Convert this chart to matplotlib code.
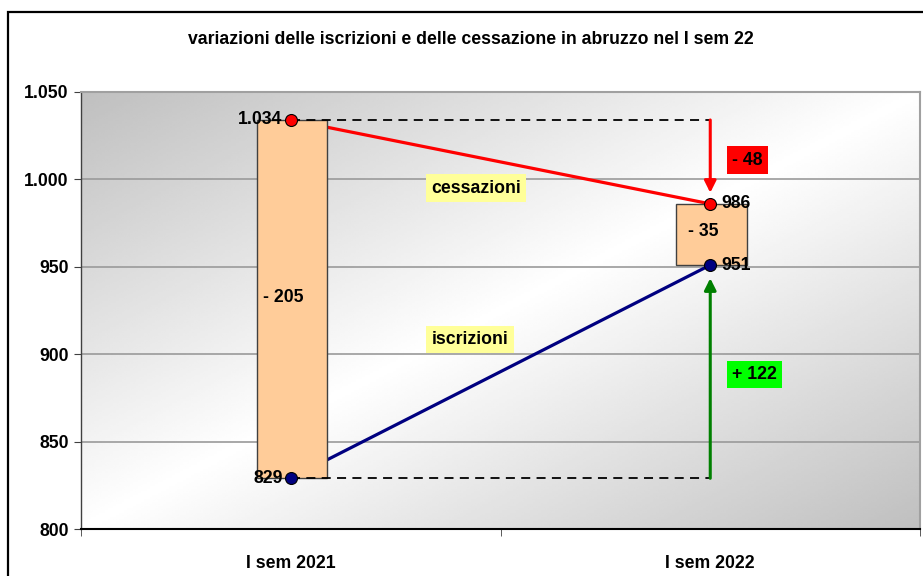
import numpy as np
import matplotlib
matplotlib.use("Agg")
import matplotlib.pyplot as plt
from matplotlib.patches import Rectangle

plt.rcParams['font.family'] = ['Liberation Sans', 'DejaVu Sans']
plt.rcParams['font.weight'] = 'bold'

title = "variazioni delle iscrizioni e delle cessazione in abruzzo nel I sem 22"
categories = ["I sem 2021", "I sem 2022"]
cessazioni = [1034, 986]
iscrizioni = [829, 951]
saldo_labels = ["- 205", "- 35"]
var_cessazioni = "- 48"
var_iscrizioni = "+ 122"
yticks = [800, 850, 900, 950, 1000, 1050]
ytick_labels = ["800", "850", "900", "950", "1.000", "1.050"]
point_labels_c = ["1.034", "986"]
point_labels_i = ["829", "951"]

FS = 12.7
W, H = 923, 576
fig = plt.figure(figsize=(W / 100, H / 100), dpi=100)
fig.patch.set_facecolor('white')

# outer border
fig.add_artist(Rectangle((8 / W, -0.05), 1.2, (576 - 12) / H + 0.05, transform=fig.transFigure,
                         fill=False, edgecolor='black', linewidth=1.6))

left, right, top, bottom = 81, 920, 92, 529
ax = fig.add_axes([left / W, (H - bottom) / H, (right - left) / W, (bottom - top) / H])

x = np.arange(len(categories))
ax.set_xlim(-0.5, 1.5)
ax.set_ylim(800, 1050)

# gradient background
gx = np.linspace(0, 1, 300)
gy = np.linspace(0, 1, 200)
GX, GY = np.meshgrid(gx, gy)
val = 1 - 0.25 * np.abs(GX + GY - 1)
ax.imshow(val, cmap='gray', vmin=0, vmax=1, extent=[-0.5, 1.5, 800, 1050], origin='upper',
          aspect='auto', zorder=0, interpolation='bilinear')

ax.set_yticks(yticks)
ax.set_yticklabels(ytick_labels, fontsize=FS, fontweight='bold')
ax.set_xticks(x)
ax.set_xticklabels(categories, fontsize=FS, fontweight='bold')
ax.tick_params(axis='x', which='major', length=0, pad=19)
ax.set_xticks([-0.5, 0.5, 1.5], minor=True)
ax.tick_params(axis='x', which='minor', length=5, direction='out', color='#404040')
ax.tick_params(axis='y', length=5, direction='out', color='#404040', pad=4)
ax.yaxis.grid(True, color='#9a9a9a', linewidth=1.2, zorder=1)
ax.set_axisbelow(True)
for s in ['top', 'right']:
    ax.spines[s].set_color('#a0a0a0')
    ax.spines[s].set_linewidth(1.5)
ax.spines['left'].set_color('#404040')
ax.spines['left'].set_linewidth(1)
ax.spines['bottom'].set_color('black')
ax.spines['bottom'].set_linewidth(1.5)

# lines (under bars)
ax.plot(x, cessazioni, color='#FF0000', linewidth=2.3, zorder=2)
ax.plot(x, iscrizioni, color='#000080', linewidth=2.3, zorder=2)

# floating bars
lows = [min(c, i) for c, i in zip(cessazioni, iscrizioni)]
highs = [max(c, i) for c, i in zip(cessazioni, iscrizioni)]
ax.bar(x + 0.003, np.array(highs) - np.array(lows), bottom=lows, width=0.167,
       color='#FFCC99', edgecolor='#404040', linewidth=1, zorder=3)

# dashed reference lines
ax.plot([x[0], x[1]], [cessazioni[0], cessazioni[0]], color='black', linestyle=(0, (5, 3.5)),
        linewidth=1.3, zorder=4)
ax.plot([x[0], x[1]], [iscrizioni[0], iscrizioni[0]], color='black', linestyle=(0, (5, 3.5)),
        linewidth=1.3, zorder=4)

# arrows
ax.annotate('', xy=(x[1], cessazioni[1]), xytext=(x[1], cessazioni[0]),
            arrowprops=dict(arrowstyle='-|>,head_length=0.7,head_width=0.35', color='#FF0000',
                            lw=2.2, shrinkA=0, shrinkB=8), zorder=4)
ax.annotate('', xy=(x[1], iscrizioni[1]), xytext=(x[1], iscrizioni[0]),
            arrowprops=dict(arrowstyle='-|>,head_length=0.7,head_width=0.35', color='#008000',
                            lw=2.2, shrinkA=0, shrinkB=9.5), zorder=4)

# markers
ax.plot(x, cessazioni, linestyle='none', marker='o', markersize=8.6, markerfacecolor='#FF0000',
        markeredgecolor='black', markeredgewidth=0.8, zorder=6)
ax.plot(x, iscrizioni, linestyle='none', marker='o', markersize=8.6, markerfacecolor='#000080',
        markeredgecolor='black', markeredgewidth=0.8, zorder=6)

# point labels
ax.annotate(point_labels_c[0], (x[0], cessazioni[0]), xytext=(-6, 0), textcoords='offset points',
            ha='right', va='center', fontsize=FS, fontweight='bold', zorder=7)
ax.annotate(point_labels_i[0], (x[0], iscrizioni[0]), xytext=(-6, 0), textcoords='offset points',
            ha='right', va='center', fontsize=FS, fontweight='bold', zorder=7)
ax.annotate(point_labels_c[1], (x[1], cessazioni[1]), xytext=(8, 0), textcoords='offset points',
            ha='left', va='center', fontsize=FS, fontweight='bold', zorder=7)
ax.annotate(point_labels_i[1], (x[1], iscrizioni[1]), xytext=(8, 0), textcoords='offset points',
            ha='left', va='center', fontsize=FS, fontweight='bold', zorder=7)

# bar labels
ax.text(-0.017, 932.5, saldo_labels[0], ha='center', va='center', fontsize=FS, fontweight='bold', zorder=7)
ax.text(0.983, 970, saldo_labels[1], ha='center', va='center', fontsize=FS, fontweight='bold', zorder=7)

# variation boxes
ax.text(1.052, 1011, var_cessazioni, ha='left', va='center', fontsize=FS, fontweight='bold', zorder=7,
        bbox=dict(boxstyle='square,pad=0.3', facecolor='#FF0000', edgecolor='none'))
ax.text(1.052, 888.3, var_iscrizioni, ha='left', va='center', fontsize=FS, fontweight='bold', zorder=7,
        bbox=dict(boxstyle='square,pad=0.3', facecolor='#00FF00', edgecolor='none'))

# series labels
ax.text(0.442, 995, 'cessazioni', ha='center', va='center', fontsize=FS, fontweight='bold', zorder=7,
        bbox=dict(boxstyle='square,pad=0.3', facecolor='#FFFF99', edgecolor='none'))
ax.text(0.4275, 908.4, 'iscrizioni', ha='center', va='center', fontsize=FS, fontweight='bold', zorder=7,
        bbox=dict(boxstyle='square,pad=0.3', facecolor='#FFFF99', edgecolor='none'))

fig.text(0.5 * (185 + 757) / W, 1 - 40 / H, title, ha='center', va='center', fontsize=FS, fontweight='bold')

fig.savefig('out.png', dpi=100)
